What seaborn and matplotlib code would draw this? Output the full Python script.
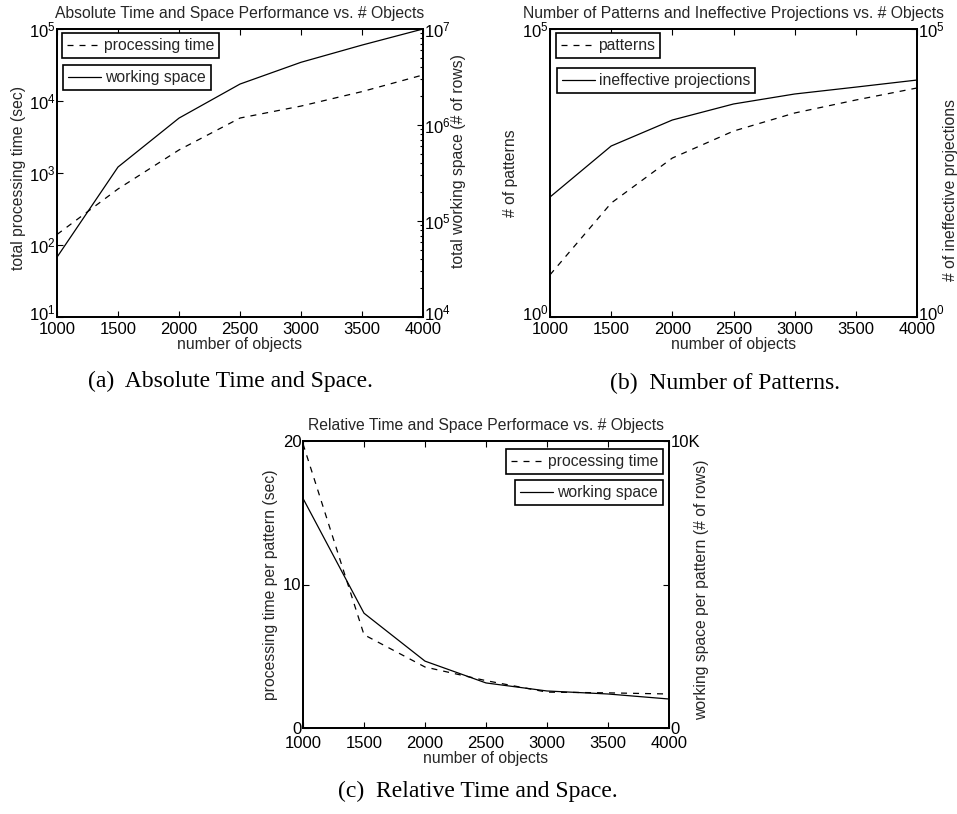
import matplotlib
matplotlib.use("Agg")
import matplotlib.pyplot as plt
import matplotlib.transforms as mtransforms
import seaborn as sns
import numpy as np
import pandas as pd
from matplotlib.ticker import LogLocator, NullFormatter, FixedLocator, FixedFormatter

# ---------------- data ----------------
n_objects = [1000, 1500, 2000, 2500, 3000, 3500, 4000]

abs_processing_time = [140, 600, 2090, 5800, 8500, 13500, 23000]          # sec
abs_working_space = [42000, 365000, 1.18e6, 2.67e6, 4.5e6, 6.8e6, 1.0e7]  # rows

num_patterns = [5.4, 95, 575, 1690, 3480, 5850, 9460]
num_ineffective = [121, 930, 2630, 4990, 7440, 9800, 13000]

rel_processing_time = [19.8, 6.5, 4.25, 3.3, 2.5, 2.45, 2.37]             # sec / pattern
rel_working_space = [8000, 4000, 2330, 1570, 1290, 1185, 1010]            # rows / pattern

x_ticks = [1000, 1500, 2000, 2500, 3000, 3500, 4000]

# ---------------- style ----------------
sns.set_theme(style="ticks")
plt.rcParams["font.family"] = ["Liberation Sans", "DejaVu Sans"]
plt.rcParams["mathtext.fontset"] = "custom"
plt.rcParams["mathtext.rm"] = "Liberation Sans"
plt.rcParams["mathtext.it"] = "Liberation Sans:italic"
plt.rcParams["axes.linewidth"] = 1.3
plt.rcParams["xtick.direction"] = "in"
plt.rcParams["ytick.direction"] = "in"

W, H = 957, 814
fig = plt.figure(figsize=(W / 100, H / 100), dpi=100)

LABEL_FS = 11.3
TICK_FS = 12
LW = 0.9
DASH = (4.8, 4.8)


def fx(px):
    return px / W


def fy(py):
    return 1 - py / H


def make_axes(left, top, right, bottom):
    return fig.add_axes([fx(left), fy(bottom), fx(right) - fx(left), (bottom - top) / H])


def style_axes(ax, ax2, xpad=3.5):
    for a in (ax, ax2):
        for s in a.spines.values():
            s.set_color("black")
            s.set_linewidth(1.3)
    ax.set_xlim(1000, 4000)
    ax.set_xticks(x_ticks)
    ax.set_xticklabels([str(v) for v in x_ticks])
    ax.tick_params(axis="x", which="both", top=True, bottom=True, direction="in",
                   length=4, width=0.8, labelsize=TICK_FS, pad=xpad, colors="black")
    ax.tick_params(axis="y", which="both", left=True, right=False, direction="in",
                   length=4, width=0.8, labelsize=TICK_FS, pad=1, colors="black")
    ax2.tick_params(axis="y", which="both", right=True, left=False, direction="in",
                    length=4, width=0.8, labelsize=TICK_FS, pad=1, colors="black")
    ax2.tick_params(axis="y", which="minor", length=2)
    ax.tick_params(axis="y", which="minor", length=0)


def shift_bottom_label(ax, dy_px, right=False):
    ax.yaxis._update_ticks()
    locs = ax.yaxis.get_majorticklocs()
    idx = int(np.argmin(locs))
    tick = ax.yaxis.get_major_ticks()[idx]
    lab = tick.label2 if right else tick.label1
    off = mtransforms.ScaledTranslation(0, dy_px / 100, fig.dpi_scale_trans)
    lab.set_transform(lab.get_transform() + off)


def add_legend(ax, line, label, anchor, loc):
    leg = ax.legend([line], [label], loc=loc, bbox_to_anchor=anchor,
                    bbox_transform=fig.transFigure, fontsize=LABEL_FS,
                    fancybox=False, framealpha=1, edgecolor="black",
                    handlelength=2.1, handletextpad=0.25, borderpad=0.32,
                    borderaxespad=0)
    leg.get_frame().set_linewidth(1.2)
    return leg


def set_ylabel(ax, text, xpx, ypx):
    ax.set_ylabel(text, fontsize=LABEL_FS)
    ax.yaxis.set_label_coords(fx(xpx), fy(ypx), transform=fig.transFigure)
    ax.yaxis.label.set_va("center")
    ax.yaxis.label.set_ha("center")


def set_xlabel(ax, text, xpx, ypx):
    ax.set_xlabel(text, fontsize=LABEL_FS)
    ax.xaxis.set_label_coords(fx(xpx), fy(ypx), transform=fig.transFigure)
    ax.xaxis.label.set_va("center")


# ================= (a) =================
axa = make_axes(57, 29, 423, 317)
axa2 = axa.twinx()
df_a = pd.DataFrame({"n": n_objects, "time": abs_processing_time, "space": abs_working_space})
sns.lineplot(data=df_a, x="n", y="time", ax=axa, color="black", lw=LW, legend=False)
sns.lineplot(data=df_a, x="n", y="space", ax=axa2, color="black", lw=LW, legend=False)
la = axa.lines[0]
la.set_dashes(DASH)
lb = axa2.lines[0]
axa.set_yscale("log")
axa2.set_yscale("log")
axa.set_ylim(10, 1e5)
axa2.set_ylim(1e4, 1e7)
axa.yaxis.set_major_locator(FixedLocator([10, 1e2, 1e3, 1e4, 1e5]))
axa2.yaxis.set_major_locator(FixedLocator([1e4, 1e5, 1e6, 1e7]))
axa2.yaxis.set_minor_locator(LogLocator(base=10, subs=np.arange(2, 10), numticks=20))
axa2.yaxis.set_minor_formatter(NullFormatter())
axa.yaxis.set_minor_formatter(NullFormatter())
style_axes(axa, axa2)
axa.set_title("Absolute Time and Space Performance vs. # Objects", fontsize=LABEL_FS, pad=8)
set_xlabel(axa, "number of objects", 240, 345)
set_ylabel(axa, "total processing time (sec)", 19, 178)
set_ylabel(axa2, "total working space (# of rows)", 459, 161)
add_legend(axa, la, "processing time", (fx(62), fy(33)), "upper left")
add_legend(axa2, lb, "working space", (fx(63), fy(65)), "upper left")

# ================= (b) =================
axb = make_axes(550, 29, 917, 317)
axb2 = axb.twinx()
df_b = pd.DataFrame({"n": n_objects, "pat": num_patterns, "ineff": num_ineffective})
sns.lineplot(data=df_b, x="n", y="pat", ax=axb, color="black", lw=LW, legend=False)
sns.lineplot(data=df_b, x="n", y="ineff", ax=axb2, color="black", lw=LW, legend=False)
lc = axb.lines[0]
lc.set_dashes(DASH)
ld = axb2.lines[0]
for a in (axb, axb2):
    a.set_yscale("log")
    a.set_ylim(1, 1e5)
    a.yaxis.set_major_locator(FixedLocator([1, 1e5]))
    a.yaxis.set_minor_locator(FixedLocator([]))
style_axes(axb, axb2)
axb.set_title("Number of Patterns and Ineffective Projections vs. # Objects", fontsize=LABEL_FS, pad=8)
set_xlabel(axb, "number of objects", 733.5, 345)
set_ylabel(axb, "# of patterns", 510, 173)
set_ylabel(axb2, "# of ineffective projections", 950, 190)
add_legend(axb, lc, "patterns", (fx(556), fy(33)), "upper left")
add_legend(axb2, ld, "ineffective projections", (fx(557), fy(68)), "upper left")

# ================= (c) =================
axc = make_axes(303, 441, 669, 728)
axc2 = axc.twinx()
df_c = pd.DataFrame({"n": n_objects, "time": rel_processing_time, "space": rel_working_space})
sns.lineplot(data=df_c, x="n", y="time", ax=axc, color="black", lw=LW, legend=False)
sns.lineplot(data=df_c, x="n", y="space", ax=axc2, color="black", lw=LW, legend=False)
le = axc.lines[0]
le.set_dashes(DASH)
lf = axc2.lines[0]
axc.set_ylim(0, 20)
axc2.set_ylim(0, 10000)
axc.yaxis.set_major_locator(FixedLocator([0, 10, 20]))
axc2.yaxis.set_major_locator(FixedLocator([0, 5000, 10000]))
axc2.yaxis.set_major_formatter(FixedFormatter(["0", "", "10K"]))
style_axes(axc, axc2, xpad=5.8)
axc.set_title("Relative Time and Space Performace vs. # Objects", fontsize=LABEL_FS, pad=8)
set_xlabel(axc, "number of objects", 486, 759)
set_ylabel(axc, "processing time per pattern (sec)", 270, 585)
set_ylabel(axc2, "working space per pattern (# of rows)", 702, 590)
add_legend(axc, le, "processing time", (fx(663), fy(449)), "upper right")
add_legend(axc2, lf, "working space", (fx(663), fy(480)), "upper right")

# shift the lowest y tick labels of the log axes up a little (as in the reference)
shift_bottom_label(axa, 5)
shift_bottom_label(axa2, 5, right=True)
shift_bottom_label(axb, 5)
shift_bottom_label(axb2, 5, right=True)

# ---------------- captions ----------------
cap_kw = dict(ha="center", va="center", fontsize=17,
              family=["Liberation Serif", "DejaVu Serif"], color="black")
fig.text(fx(230.5), fy(381), "(a)  Absolute Time and Space.", **cap_kw)
fig.text(fx(725), fy(383), "(b)  Number of Patterns.", **cap_kw)
fig.text(fx(478), fy(791), "(c)  Relative Time and Space.", **cap_kw)

fig.savefig("out.png", dpi=100, facecolor="white")
